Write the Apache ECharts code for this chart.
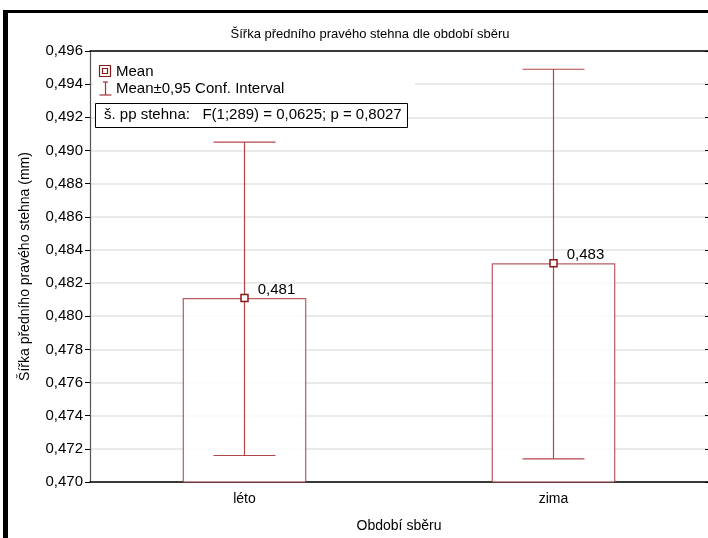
<!DOCTYPE html>
<html><head><meta charset="utf-8">
<script src="https://cdn.jsdelivr.net/npm/echarts@6/dist/echarts.min.js"></script>
<style>html,body{margin:0;padding:0;background:#fff}#c{width:708px;height:538px}</style>
</head><body><div id="c"></div>
<script>
const categories = ['léto', 'zima'];
const means = [0.4811, 0.4832];
const lower = [0.4716, 0.4714];
const upper = [0.4905, 0.4949];
const meanLabels = ['0,481', '0,483'];
const yMin = 0.470, yMax = 0.496, yStep = 0.002;

const FONT = 'Liberation Sans';
const RED = '#a8323a';
const chart = echarts.init(document.getElementById('c'));
const fmt = v => v.toFixed(3).replace('.', ',');

chart.setOption({
  animation: false,
  textStyle: { fontFamily: FONT },
  title: { text: 'Šířka předního pravého stehna dle období sběru', left: 365, top: 23, textAlign: 'center',
    textStyle: { fontFamily: FONT, fontSize: 13, fontWeight: 'normal', color: '#000' } },
  grid: { left: 90, right: 0, top: 51, bottom: 55 },
  xAxis: [
    { type: 'category', data: categories, position: 'bottom',
      name: 'Období sběru', nameLocation: 'middle', nameGap: 37,
      nameTextStyle: { fontFamily: FONT, fontSize: 14, color: '#000' },
      axisLine: { lineStyle: { color: '#000', width: 1.5 } },
      axisTick: { inside: true, alignWithLabel: true, length: 4, lineStyle: { color: '#000' } },
      axisLabel: { fontFamily: FONT, fontSize: 14, color: '#000', margin: 10 } },
    { type: 'category', data: categories, position: 'top',
      axisLine: { lineStyle: { color: '#000', width: 1.5 } },
      axisTick: { inside: true, alignWithLabel: true, length: 4, lineStyle: { color: '#000' } },
      axisLabel: { show: false } }
  ],
  yAxis: [
    { type: 'value', min: yMin, max: yMax, interval: yStep,
      name: 'Šířka předního pravého stehna (mm)', nameLocation: 'middle', nameGap: 58,
      nameTextStyle: { fontFamily: FONT, fontSize: 14, color: '#000' },
      axisLine: { show: true, lineStyle: { color: '#555', width: 1.2 } },
      axisTick: { show: true, length: 5, lineStyle: { color: '#000' } },
      axisLabel: { fontFamily: FONT, fontSize: 15, color: '#000', formatter: fmt, margin: 7 },
      splitLine: { show: true, lineStyle: { color: '#e3e3e3', width: 1.5 } } },
    { type: 'value', min: yMin, max: yMax, interval: yStep, position: 'right',
      axisLine: { show: false },
      axisTick: { show: true, inside: true, length: 3, lineStyle: { color: '#000' } },
      axisLabel: { show: false }, splitLine: { show: false } }
  ],
  series: [
    { type: 'bar', data: means, barWidth: '40%', silent: true,
      itemStyle: { color: '#fff', borderColor: RED, borderWidth: 1.2, opacity: 0.8 } },
    { type: 'custom', silent: true, z: 5,
      data: categories.map((c, i) => [i, lower[i], upper[i]]),
      renderItem: (params, api) => {
        const x = api.coord([api.value(0), 0])[0];
        const lo = api.coord([api.value(0), api.value(1)])[1];
        const hi = api.coord([api.value(0), api.value(2)])[1];
        const hw = 31;
        const st = { stroke: RED, lineWidth: 1.2, opacity: 0.9 };
        return { type: 'group', children: [
          { type: 'line', shape: { x1: x, y1: lo, x2: x, y2: hi }, style: st },
          { type: 'line', shape: { x1: x - hw, y1: lo, x2: x + hw, y2: lo }, style: st },
          { type: 'line', shape: { x1: x - hw, y1: hi, x2: x + hw, y2: hi }, style: st }
        ] };
      } },
    { type: 'scatter', data: means, symbol: 'rect', symbolSize: 7, z: 10, silent: true,
      itemStyle: { color: '#fff', borderColor: '#8b1a1a', borderWidth: 1.5, opacity: 1 },
      label: { show: true, position: 'right', distance: 9, offset: [0, -8],
        formatter: p => meanLabels[p.dataIndex],
        fontFamily: FONT, fontSize: 15, color: '#000' } }
  ],
  graphic: [
    { type: 'rect', shape: { x: 3, y: 10, width: 5, height: 540 }, style: { fill: '#000' } },
    { type: 'rect', shape: { x: 3, y: 10, width: 710, height: 3 }, style: { fill: '#000' } },
    { type: 'rect', shape: { x: 93, y: 56, width: 322, height: 44 }, style: { fill: '#fff' }, z: 15 },
    { type: 'rect', shape: { x: 99.5, y: 65.5, width: 11, height: 11 }, style: { fill: '#fff', stroke: '#8b1a1a', lineWidth: 1.2 }, z: 16 },
    { type: 'rect', shape: { x: 102.5, y: 68.5, width: 5, height: 5 }, style: { fill: '#fff', stroke: '#8b1a1a', lineWidth: 1.2 }, z: 16 },
    { type: 'text', left: 116, top: 64, z: 16, style: { text: 'Mean', font: '15px "Liberation Sans"', fill: '#000' } },
    { type: 'line', shape: { x1: 105.5, y1: 82, x2: 105.5, y2: 95 }, z: 16, style: { stroke: RED, lineWidth: 1.2 } },
    { type: 'line', shape: { x1: 99.5, y1: 95, x2: 111.5, y2: 95 }, z: 16, style: { stroke: RED, lineWidth: 1.2 } },
    { type: 'line', shape: { x1: 103, y1: 82, x2: 108, y2: 82 }, z: 16, style: { stroke: RED, lineWidth: 1.2 } },
    { type: 'text', left: 116, top: 81, z: 16, style: { text: 'Mean±0,95 Conf. Interval', font: '15px "Liberation Sans"', fill: '#000' } },
    { type: 'rect', shape: { x: 95.5, y: 103.5, width: 312, height: 24 }, style: { fill: '#fff', stroke: '#000', lineWidth: 1 }, z: 20 },
    { type: 'text', left: 104, top: 107.5, z: 21, style: { text: 'š. pp stehna:   F(1;289) = 0,0625; p = 0,8027', font: '15px "Liberation Sans"', fill: '#000' } }
  ]
});
</script></body></html>
